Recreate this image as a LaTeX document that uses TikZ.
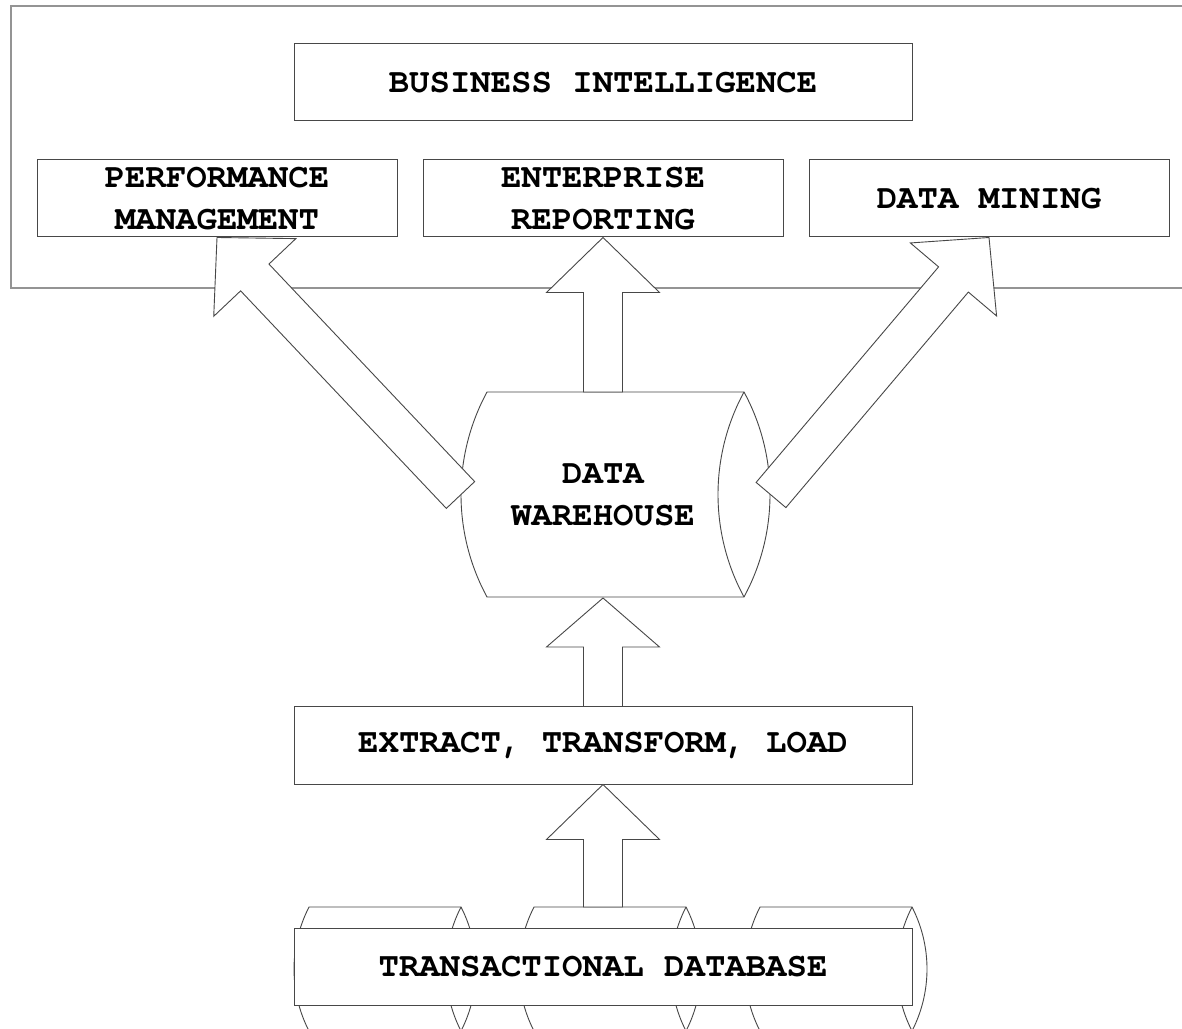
\documentclass[tikz,border=0pt]{standalone}
\usepackage{fontspec}
\newfontfamily\lblfont{TeX Gyre Cursor}
\usetikzlibrary{calc}
\tikzset{
  lbl/.style={font=\lblfont\bfseries\fontsize{34pt}{42pt}\selectfont, align=center, text=black},
  box/.style={draw=black!72, line width=1pt, fill=white, inner sep=0pt, minimum height=77pt},
  outerbox/.style={draw=black!42, line width=1.4pt},
  barrow/.style={draw=black!72, line width=0.9pt, fill=white, line join=miter},
  cyl/.style={draw=black!72, line width=0.9pt, fill=white}
}
\newcommand\blockarr[3]{%
  \coordinate (ba-t) at #1;
  \coordinate (ba-p) at #2;
  \coordinate (ba-h) at ($(ba-p)!#3!(ba-t)$);
  \draw[barrow] ($(ba-t)!19.5pt!90:(ba-p)$) -- ($(ba-h)!19.5pt!90:(ba-p)$)
    -- ($(ba-h)!56.5pt!90:(ba-p)$) -- (ba-p) -- ($(ba-h)!56.5pt!-90:(ba-p)$)
    -- ($(ba-h)!19.5pt!-90:(ba-p)$) -- ($(ba-t)!19.5pt!-90:(ba-p)$) -- cycle;
}
\begin{document}
\begin{tikzpicture}[x=1pt,y=1pt]
\useasboundingbox (0,0) rectangle (1182,1028);
\clip (0,0) rectangle (1182,1028);
\fill[white] (0,0) rectangle (1182,1028);

% outer business intelligence frame
\draw[outerbox] (11,740) rectangle (1200,1022);

% boxes on top
\node[box, lbl, minimum width=618pt] (bi) at (603,945.5) {BUSINESS INTELLIGENCE};
\node[box, lbl, minimum width=360pt] (pm) at (217,829.5) {PERFORMANCE\\MANAGEMENT};
\node[box, lbl, minimum width=360pt] (er) at (603,829.5) {ENTERPRISE\\REPORTING};
\node[box, lbl, minimum width=360pt] (dm) at (989,829.5) {DATA MINING};

% data warehouse cylinder (circular end arcs, chord 205, sagitta 26)
\draw[cyl] (487,636) -- (744,636) arc[start angle=28.47, end angle=-28.47, radius=215pt]
  -- (487,431) arc[start angle=208.47, end angle=151.53, radius=215pt] -- cycle;
\draw[cyl, fill=none] (744,636) arc[start angle=151.53, end angle=208.47, radius=215pt];
\node[lbl] (dw) at (603,533.5) {DATA\\WAREHOUSE};
\coordinate (dwtop) at (603,636);
\coordinate (dwbot) at (603,430);
\coordinate (dwleft) at (460.5,533);
\coordinate (dwright) at (771,533);

% transactional database cylinders (chord 124, sagitta 15), running past the lower edge
\foreach \xl/\xr in {309/461, 534/686, 760/912}{
  \draw[cyl] (\xl,121) -- (\xr,121) arc[start angle=27.2, end angle=-27.2, radius=135.6pt]
    -- (\xl,-3) arc[start angle=207.2, end angle=152.8, radius=135.6pt] -- cycle;
  \draw[cyl, fill=none] (\xr,121) arc[start angle=152.8, end angle=207.2, radius=135.6pt];
}
\coordinate (tdtop) at (603,121);
\node[box, lbl, minimum width=618pt] (td) at (603,61.5) {TRANSACTIONAL DATABASE};

% ETL
\node[box, lbl, minimum width=618pt] (etl) at (603,282.5) {EXTRACT, TRANSFORM, LOAD};

% block arrows
\blockarr{(dwtop)}{(er.south)}{55pt}
\blockarr{(dwleft)}{(pm.south)}{55pt}
\blockarr{(dwright)}{(dm.south)}{55pt}
\blockarr{(etl.north)}{(dwbot)}{49pt}
\blockarr{(tdtop)}{(etl.south)}{55pt}
\end{tikzpicture}
\end{document}
